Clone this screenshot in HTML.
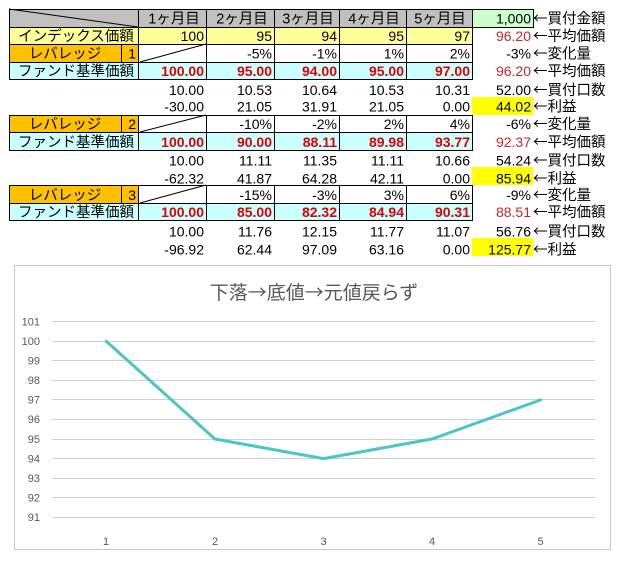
<!DOCTYPE html>
<html><head><meta charset="utf-8"><style>
html,body{margin:0;padding:0;background:#fff;}
body{width:621px;height:561px;overflow:hidden;position:relative;}
svg{position:absolute;left:0;top:0;}
.n{font-family:"Liberation Sans",sans-serif;font-size:14px;fill:#000;}
.r{fill:#e00000;font-weight:bold;}
.rv{fill:#c62828;}
.j{font-family:"Liberation Sans","Noto Sans CJK JP",sans-serif;font-size:14.5px;fill:#000;}
.a{font-family:"Noto Sans CJK JP",sans-serif;font-size:14.5px;fill:#000;}
</style></head><body>
<svg width="621" height="561" viewBox="0 0 621 561" xmlns="http://www.w3.org/2000/svg">
<!-- fills -->
<rect x="9" y="9" width="463" height="18" fill="#c0c0c0"/>
<rect x="472" y="9" width="61" height="18" fill="#ccffcc"/>
<rect x="9" y="27" width="463" height="17" fill="#ffff99"/>
<rect x="9" y="44" width="129" height="18" fill="#ffc000"/>
<rect x="9" y="62" width="463" height="17" fill="#ccffff"/>
<rect x="472" y="97" width="61" height="18" fill="#ffff00"/>
<rect x="9" y="115" width="129" height="17" fill="#ffc000"/>
<rect x="9" y="132" width="463" height="18" fill="#ccffff"/>
<rect x="472" y="167" width="61" height="18" fill="#ffff00"/>
<rect x="9" y="185" width="129" height="18" fill="#ffc000"/>
<rect x="9" y="203" width="463" height="17" fill="#ccffff"/>
<rect x="472" y="238" width="61" height="18" fill="#ffff00"/>
<!-- grid lines -->
<g stroke="#000" stroke-width="1" shape-rendering="crispEdges" fill="none">
<path d="M9 9.5H533M9 27.5H472M9 44.5H472M9 62.5H472M9 79.5H472"/>
<path d="M9.5 9V80M138.5 9V80M206.5 9V80M274.5 9V80M339.5 9V80M406.5 9V80M472.5 9V80M533.5 9V28M121.5 44V62M472 27.5H533"/>
<path d="M9 115.5H472M9 132.5H472M9 150.5H472"/>
<path d="M9.5 115V151M138.5 115V151M206.5 115V151M274.5 115V151M339.5 115V151M406.5 115V151M472.5 115V151M121.5 115V132"/>
<path d="M9 185.5H472M9 203.5H472M9 220.5H472"/>
<path d="M9.5 185V221M138.5 185V221M206.5 185V221M274.5 185V221M339.5 185V221M406.5 185V221M472.5 185V221M121.5 185V203"/>
</g>
<g stroke="#000" stroke-width="1" fill="none">
<line x1="9" y1="9" x2="138" y2="27"/>
<line x1="140" y1="62" x2="206" y2="44"/>
<line x1="140" y1="132" x2="206" y2="115"/>
<line x1="140" y1="203" x2="206" y2="185"/>
</g>
<!-- header -->
<g class="j" text-anchor="middle">
<text x="174" y="23.5">1ヶ月目</text>
<text x="242" y="23.5">2ヶ月目</text>
<text x="308" y="23.5">3ヶ月目</text>
<text x="374" y="23.5">4ヶ月目</text>
<text x="440" y="23.5">5ヶ月目</text>
<text x="76" y="41">インデックス価額</text>
<text x="65" y="58.5">レバレッジ</text>
<text x="76" y="76">ファンド基準価額</text>
<text x="65" y="129">レバレッジ</text>
<text x="76" y="147">ファンド基準価額</text>
<text x="65" y="200">レバレッジ</text>
<text x="76" y="217">ファンド基準価額</text>
</g>
<g class="n" text-anchor="end">
<text x="531" y="23.5">1,000</text>
<text x="136" y="58.5">1</text>
<text x="136" y="129">2</text>
<text x="136" y="200">3</text>
<!-- index row -->
<text x="204" y="41">100</text><text x="272" y="41">95</text><text x="337" y="41">94</text><text x="404" y="41">95</text><text x="470" y="41">97</text>
<text x="531" y="41" class="n rv">96.20</text>
<!-- lev1 -->
<text x="272" y="58.5">-5%</text><text x="337" y="58.5">-1%</text><text x="404" y="58.5">1%</text><text x="470" y="58.5">2%</text>
<text x="531" y="58.5">-3%</text>
<g class="r"><text x="204" y="76">100.00</text><text x="272" y="76">95.00</text><text x="337" y="76">94.00</text><text x="404" y="76">95.00</text><text x="470" y="76">97.00</text></g>
<text x="531" y="76" class="n rv">96.20</text>
<text x="204" y="95">10.00</text><text x="272" y="95">10.53</text><text x="337" y="95">10.64</text><text x="404" y="95">10.53</text><text x="470" y="95">10.31</text><text x="531" y="95">52.00</text>
<text x="204" y="111.5">-30.00</text><text x="272" y="111.5">21.05</text><text x="337" y="111.5">31.91</text><text x="404" y="111.5">21.05</text><text x="470" y="111.5">0.00</text><text x="531" y="111.5">44.02</text>
<!-- lev2 -->
<text x="272" y="129">-10%</text><text x="337" y="129">-2%</text><text x="404" y="129">2%</text><text x="470" y="129">4%</text>
<text x="531" y="129">-6%</text>
<g class="r"><text x="204" y="147">100.00</text><text x="272" y="147">90.00</text><text x="337" y="147">88.11</text><text x="404" y="147">89.98</text><text x="470" y="147">93.77</text></g>
<text x="531" y="147" class="n rv">92.37</text>
<text x="204" y="165.5">10.00</text><text x="272" y="165.5">11.11</text><text x="337" y="165.5">11.35</text><text x="404" y="165.5">11.11</text><text x="470" y="165.5">10.66</text><text x="531" y="165.5">54.24</text>
<text x="204" y="183.5">-62.32</text><text x="272" y="183.5">41.87</text><text x="337" y="183.5">64.28</text><text x="404" y="183.5">42.11</text><text x="470" y="183.5">0.00</text><text x="531" y="183.5">85.94</text>
<!-- lev3 -->
<text x="272" y="200">-15%</text><text x="337" y="200">-3%</text><text x="404" y="200">3%</text><text x="470" y="200">6%</text>
<text x="531" y="200">-9%</text>
<g class="r"><text x="204" y="217">100.00</text><text x="272" y="217">85.00</text><text x="337" y="217">82.32</text><text x="404" y="217">84.94</text><text x="470" y="217">90.31</text></g>
<text x="531" y="217" class="n rv">88.51</text>
<text x="204" y="236.5">10.00</text><text x="272" y="236.5">11.76</text><text x="337" y="236.5">12.15</text><text x="404" y="236.5">11.77</text><text x="470" y="236.5">11.07</text><text x="531" y="236.5">56.76</text>
<text x="204" y="254.5">-96.92</text><text x="272" y="254.5">62.44</text><text x="337" y="254.5">97.09</text><text x="404" y="254.5">63.16</text><text x="470" y="254.5">0.00</text><text x="531" y="254.5">125.77</text>
</g>
<!-- arrow labels -->
<g class="a">
<text x="533" y="23.5">←買付金額</text>
<text x="533" y="41">←平均価額</text>
<text x="533" y="58.5">←変化量</text>
<text x="533" y="76">←平均価額</text>
<text x="533" y="95">←買付口数</text>
<text x="533" y="111.5">←利益</text>
<text x="533" y="129">←変化量</text>
<text x="533" y="147">←平均価額</text>
<text x="533" y="165.5">←買付口数</text>
<text x="533" y="183.5">←利益</text>
<text x="533" y="200">←変化量</text>
<text x="533" y="217">←平均価額</text>
<text x="533" y="236.5">←買付口数</text>
<text x="533" y="254.5">←利益</text>
</g>
<!-- chart -->
<rect x="14.5" y="265.5" width="596" height="284" fill="#fff" stroke="#c8c8c8" stroke-width="1"/>
<text x="314" y="299" text-anchor="middle" font-family="'Noto Sans CJK JP',sans-serif" font-size="19" fill="#595959">下落→底値→元値戻らず</text>
<g stroke="#cfcfcf" stroke-width="1" shape-rendering="crispEdges">
<line x1="52" x2="595" y1="321.5" y2="321.5"/>
<line x1="52" x2="595" y1="341.5" y2="341.5"/>
<line x1="52" x2="595" y1="360.5" y2="360.5"/>
<line x1="52" x2="595" y1="380.5" y2="380.5"/>
<line x1="52" x2="595" y1="399.5" y2="399.5"/>
<line x1="52" x2="595" y1="419.5" y2="419.5"/>
<line x1="52" x2="595" y1="439.5" y2="439.5"/>
<line x1="52" x2="595" y1="458.5" y2="458.5"/>
<line x1="52" x2="595" y1="478.5" y2="478.5"/>
<line x1="52" x2="595" y1="497.5" y2="497.5"/>
<line x1="52" x2="595" y1="517.5" y2="517.5"/>
</g>
<g font-family="'Liberation Sans',sans-serif" font-size="11" fill="#595959" text-anchor="end">
<text x="40" y="325.5">101</text>
<text x="40" y="345">100</text>
<text x="40" y="364.5">99</text>
<text x="40" y="384">98</text>
<text x="40" y="403.5">97</text>
<text x="40" y="423">96</text>
<text x="40" y="443">95</text>
<text x="40" y="462.5">94</text>
<text x="40" y="482">93</text>
<text x="40" y="501.5">92</text>
<text x="40" y="521">91</text>
</g>
<g font-family="'Liberation Sans',sans-serif" font-size="11" fill="#595959" text-anchor="middle">
<text x="106" y="545">1</text>
<text x="215" y="545">2</text>
<text x="323.5" y="545">3</text>
<text x="432" y="545">4</text>
<text x="540.5" y="545">5</text>
</g>
<polyline points="106.3,341.2 214.9,439 323.5,458.6 432.1,439 540.7,399.9" fill="none" stroke="#4bc5c6" stroke-width="3" stroke-linejoin="round" stroke-linecap="round"/>
</svg>
</body></html>
